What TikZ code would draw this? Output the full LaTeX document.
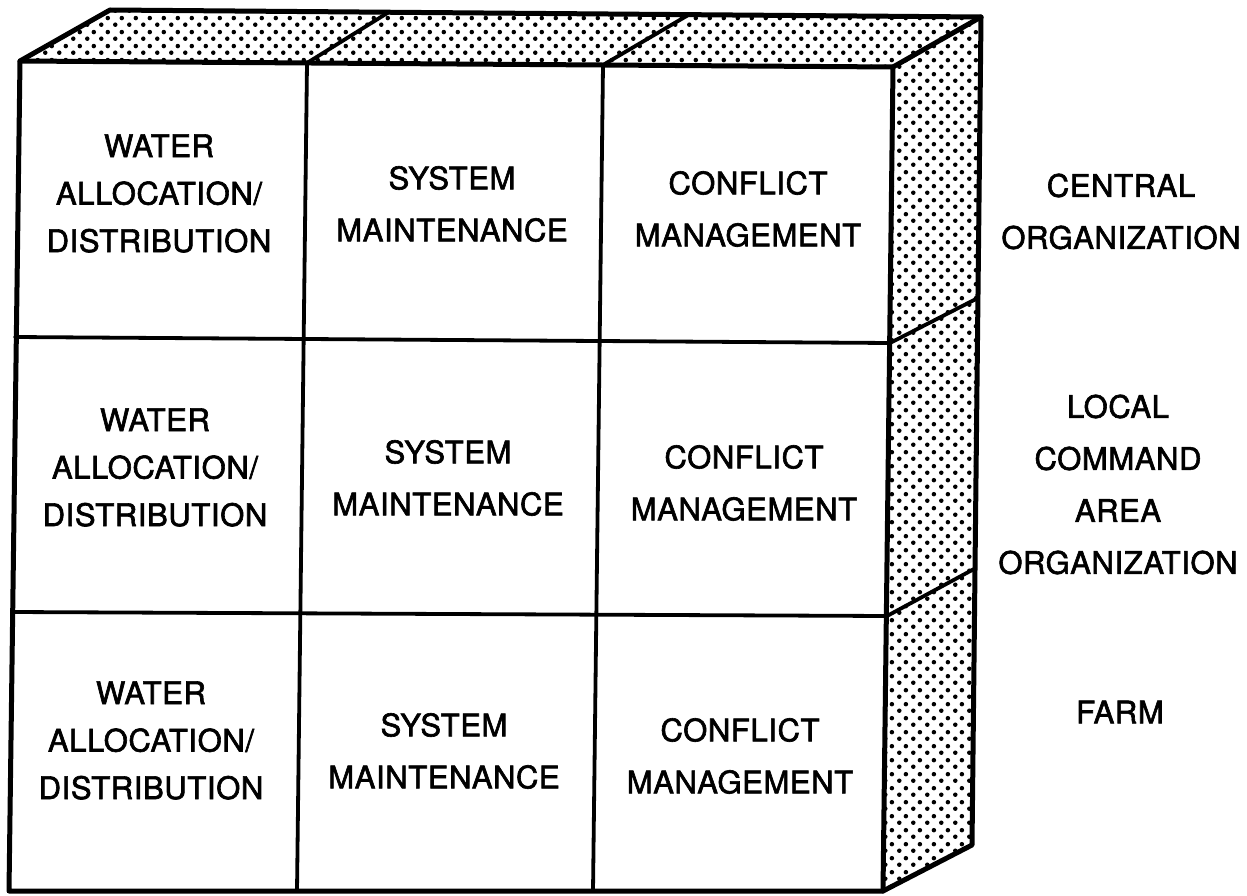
\documentclass[tikz,border=0pt]{standalone}
\usepackage{fontspec}
\newfontfamily\labfont[FakeBold=2,LetterSpace=2]{TeX Gyre Heros}
\usetikzlibrary{patterns.meta}
\tikzdeclarepattern{
  name=cubedots,
  type=colored,
  bottom left={(0pt,0pt)},
  top right={(14pt,14pt)},
  tile size={(14pt,14pt)},
  code={
    \fill[black] (3.5pt,3.5pt) circle (2.4pt);
    \fill[black] (10.5pt,10.5pt) circle (2.4pt);
  }
}
\begin{document}
\begin{tikzpicture}[x=1pt,y=-1pt,
  edge/.style={line width=5pt, line join=round, line cap=round},
  inner/.style={line width=3.8pt, line cap=round},
  face/.style={pattern=cubedots},
  cell/.style={font={\labfont\fontsize{31}{47.5}\selectfont}, align=center, inner sep=0pt},
  twoline/.style={font={\labfont\fontsize{31}{52}\selectfont}, align=center, inner sep=0pt}
]
\useasboundingbox (0,0) rectangle (1247,896);
% corners
\coordinate (FTL) at (20,61);
\coordinate (FTR) at (893,67);
\coordinate (FBR) at (883,891);
\coordinate (FBL) at (9,891);
\coordinate (BTL) at (110,10);
\coordinate (BTR) at (981,17);
\coordinate (BBR) at (972,845);
% divisions
\coordinate (C1t) at (307,63);
\coordinate (C1b) at (297,891);
\coordinate (C2t) at (603,65);
\coordinate (C2b) at (593,891);
\coordinate (C1k) at (389,12);
\coordinate (C2k) at (690,14);
\coordinate (R1l) at (15,337);
\coordinate (R1r) at (890,343);
\coordinate (R2l) at (12,612);
\coordinate (R2r) at (887,616);
\coordinate (R1k) at (976,299);
\coordinate (R2k) at (974,569);
% dotted faces
\fill[face] (FTL) -- (FTR) -- (BTR) -- (BTL) -- cycle;
\fill[face] (FTR) -- (BTR) -- (BBR) -- (FBR) -- cycle;
% inner lines
\draw[inner] (C1t) -- (C1b);
\draw[inner] (C2t) -- (C2b);
\draw[inner] (R1l) -- (R1r);
\draw[inner] (R2l) -- (R2r);
\draw[inner] (C1t) -- (C1k);
\draw[inner] (C2t) -- (C2k);
\draw[inner] (R1r) -- (R1k);
\draw[inner] (R2r) -- (R2k);
% outline
\draw[edge] (FTL) -- (BTL) -- (BTR) -- (BBR) -- (FBR) -- (FBL) -- cycle;
\draw[edge] (FTL) -- (FTR) -- (FBR);
\draw[edge] (FTR) -- (BTR);
% cell texts
\node[cell] (w1) at (159,193.5) {WATER\\ALLOCATION/\\DISTRIBUTION};
\node[cell] (w2) at (155,467.5) {WATER\\ALLOCATION/\\DISTRIBUTION};
\node[cell] (w3) at (151,740.5) {WATER\\ALLOCATION/\\DISTRIBUTION};
\node[twoline] (s1) at (452,204) {SYSTEM\\MAINTENANCE};
\node[twoline] (s2) at (448,478) {SYSTEM\\MAINTENANCE};
\node[twoline] (s3) at (444,751) {SYSTEM\\MAINTENANCE};
\node[twoline] (c1) at (748,209) {CONFLICT\\MANAGEMENT};
\node[twoline] (c2) at (744,483) {CONFLICT\\MANAGEMENT};
\node[twoline] (c3) at (740,756) {CONFLICT\\MANAGEMENT};
% level labels
\node[twoline] (l1) at (1121,211.5) {CENTRAL\\ORGANIZATION};
\node[twoline] (l2) at (1118,484.5) {LOCAL\\COMMAND\\AREA\\ORGANIZATION};
\node[twoline] (l3) at (1120,712) {FARM};
\end{tikzpicture}
\end{document}
